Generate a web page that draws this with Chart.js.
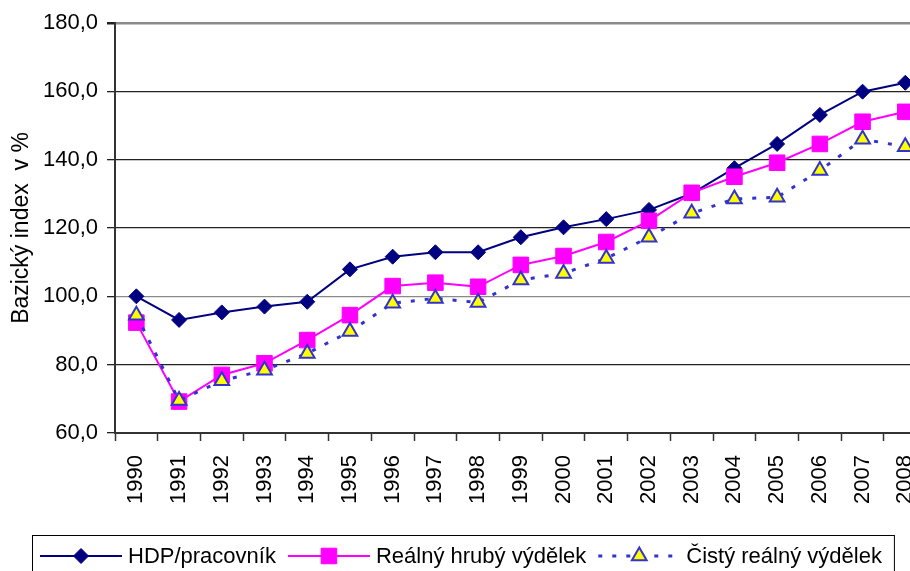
<!DOCTYPE html>
<html>
<head>
<meta charset="utf-8">
<script src="https://cdn.jsdelivr.net/npm/chart.js@4.4.1/dist/chart.umd.min.js"></script>
<style>
html, body { margin: 0; padding: 0; background: #fff; overflow: hidden; }
#wrap { width: 946px; height: 571px; }
</style>
</head>
<body>
<div id="wrap"><canvas id="indexChart" width="946" height="571"></canvas></div>
<script>
// data
const years = ['1990', '1991', '1992', '1993', '1994', '1995', '1996', '1997', '1998', '1999',
  '2000', '2001', '2002', '2003', '2004', '2005', '2006', '2007', '2008'];
const hdpPerWorker = [100.0, 93.1, 95.3, 97.0, 98.4, 107.9, 111.6, 112.9, 112.9, 117.3,
  120.2, 122.6, 125.3, 130.1, 137.5, 144.6, 153.1, 159.9, 162.5];
const realGross = [92.3, 69.2, 77.0, 80.4, 87.2, 94.5, 103.0, 104.0, 102.8, 109.2,
  111.8, 115.9, 122.1, 130.3, 135.0, 139.1, 144.6, 151.1, 154.0];
const realNet = [94.5, 69.5, 75.3, 78.4, 83.3, 89.7, 98.0, 99.4, 98.2, 104.8,
  106.7, 111.1, 117.3, 124.3, 128.5, 129.0, 136.8, 146.0, 143.8];
const seriesNames = ['HDP/pracovník', 'Reálný hrubý výdělek', 'Čistý reálný výdělek'];
const yTicks = [60, 80, 100, 120, 140, 160, 180];
const yTitle = 'Bazický index  v %';

const FONT = 'Liberation Sans, Arial, sans-serif';

// small marker painter for the legend
function marker(ctx, style, x, y, r, fill, stroke, bw) {
  ctx.save();
  ctx.beginPath();
  if (style === 'rectRot') {
    ctx.moveTo(x, y - r); ctx.lineTo(x + r, y); ctx.lineTo(x, y + r); ctx.lineTo(x - r, y);
  } else if (style === 'rect') {
    const s = r * Math.SQRT1_2;
    ctx.rect(x - s, y - s, 2 * s, 2 * s);
  } else {
    ctx.moveTo(x, y - r);
    ctx.lineTo(x + r * Math.sin(Math.PI * 2 / 3), y - r * Math.cos(Math.PI * 2 / 3));
    ctx.lineTo(x + r * Math.sin(Math.PI * 4 / 3), y - r * Math.cos(Math.PI * 4 / 3));
  }
  ctx.closePath();
  ctx.fillStyle = fill; ctx.fill();
  ctx.lineWidth = bw; ctx.strokeStyle = stroke; ctx.setLineDash([]); ctx.stroke();
  ctx.restore();
}

// legend box at the bottom, line + marker + name like in the original
const bottomLegend = {
  id: 'bottomLegend',
  afterDraw(chart) {
    const ctx = chart.ctx;
    const cy = 556;
    let x = 40;
    ctx.save();
    ctx.font = '22px ' + FONT;
    ctx.textBaseline = 'middle';
    ctx.fillStyle = '#000';
    chart.data.datasets.forEach(ds => {
      ctx.save();
      ctx.strokeStyle = ds.borderColor;
      ctx.lineWidth = ds.borderWidth;
      ctx.setLineDash(ds.borderDash || []);
      ctx.beginPath(); ctx.moveTo(x, cy); ctx.lineTo(x + 82, cy); ctx.stroke();
      ctx.restore();
      marker(ctx, ds.pointStyle, x + 41, cy, ds.pointRadius, ds.pointBackgroundColor, ds.pointBorderColor, ds.pointBorderWidth);
      ctx.fillText(ds.label, x + 88, cy + 1);
      x = x + 88 + ctx.measureText(ds.label).width + 12;
    });
    ctx.strokeStyle = '#000';
    ctx.lineWidth = 1;
    ctx.strokeRect(32.5, 535.5, x - 32, 60);
    ctx.restore();
  }
};

new Chart(document.getElementById('indexChart'), {
  type: 'line',
  data: {
    labels: years,
    datasets: [
      {
        label: seriesNames[0],
        data: hdpPerWorker,
        borderColor: '#000080',
        borderWidth: 2,
        pointStyle: 'rectRot',
        pointRadius: 7.5,
        pointBackgroundColor: '#000080',
        pointBorderColor: '#000080',
        pointBorderWidth: 1,
        order: 3
      },
      {
        label: seriesNames[1],
        data: realGross,
        borderColor: '#FF00FF',
        borderWidth: 2,
        pointStyle: 'rect',
        pointRadius: 11,
        pointBackgroundColor: '#FF00FF',
        pointBorderColor: '#FF00FF',
        pointBorderWidth: 1,
        order: 2
      },
      {
        label: seriesNames[2],
        data: realNet,
        borderColor: '#3333CC',
        borderWidth: 3,
        borderDash: [4, 10],
        pointStyle: 'triangle',
        pointRadius: 8.5,
        pointBackgroundColor: '#FFFF00',
        pointBorderColor: '#3333CC',
        pointBorderWidth: 2,
        order: 1
      }
    ]
  },
  options: {
    responsive: false,
    animation: false,
    layout: { padding: { top: 23, right: 0, bottom: 0, left: 0 } },
    plugins: { legend: { display: false }, tooltip: { enabled: false } },
    scales: {
      x: {
        offset: true,
        grid: { offset: true, drawOnChartArea: false, tickLength: 8, tickColor: '#333', tickWidth: 1.5 },
        border: { color: '#333', width: 2 },
        ticks: {
          maxRotation: 90, minRotation: 90, autoSkip: false, padding: 14,
          color: '#000', font: { family: FONT, size: 22 }
        },
        afterFit: s => { s.height = 138; }
      },
      y: {
        min: 60,
        max: 180,
        afterBuildTicks: s => { s.ticks = yTicks.map(v => ({ value: v })); },
        grid: {
          color: c => (c.tick && (c.tick.value === 100 || c.tick.value === 180)) ? '#8a8a8a' : '#222',
          lineWidth: c => (c.tick && c.tick.value === 180) ? 2.5 : 1.3,
          tickLength: 8,
          tickColor: '#222'
        },
        border: { color: '#333', width: 2 },
        ticks: {
          padding: 9,
          color: '#000',
          font: { family: FONT, size: 22 },
          callback: v => v.toFixed(1).replace('.', ',')
        },
        title: {
          display: true,
          text: yTitle,
          color: '#000',
          font: { family: FONT, size: 23 },
          padding: { top: 8, bottom: 0 }
        },
        afterFit: s => { s.width = 115; }
      }
    }
  },
  plugins: [bottomLegend]
});
</script>
</body>
</html>
